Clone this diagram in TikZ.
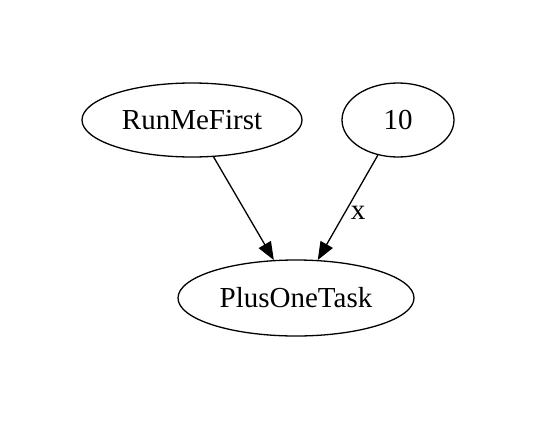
\documentclass[tikz,border=0pt]{standalone}
\usepackage{fontspec}
\setmainfont{Liberation Serif}
\usetikzlibrary{arrows.meta,shapes.geometric}
\begin{document}
\begin{tikzpicture}[x=1pt,y=-1pt,
  gnode/.style={draw,ellipse,line width=1.3pt,inner sep=0pt,font=\fontsize{29}{35}\selectfont},
  gedge/.style={draw,line width=1.3pt,-{Triangle[length=18pt,width=14pt]}},
  elabel/.style={font=\fontsize{29}{35}\selectfont}]
\useasboundingbox (0,0) rectangle (537,420);
\node[gnode,minimum width=220pt,minimum height=74pt] (a) at (192,120) {RunMeFirst};
\node[gnode,minimum width=112pt,minimum height=74pt] (b) at (398,120) {10};
\node[gnode,minimum width=236pt,minimum height=76pt] (c) at (296,298) {PlusOneTask};
\draw[gedge] (a) -- (c);
\draw[gedge] (b) -- (c);
\node[elabel] (lx) at (358,213) {x};
\end{tikzpicture}
\end{document}
